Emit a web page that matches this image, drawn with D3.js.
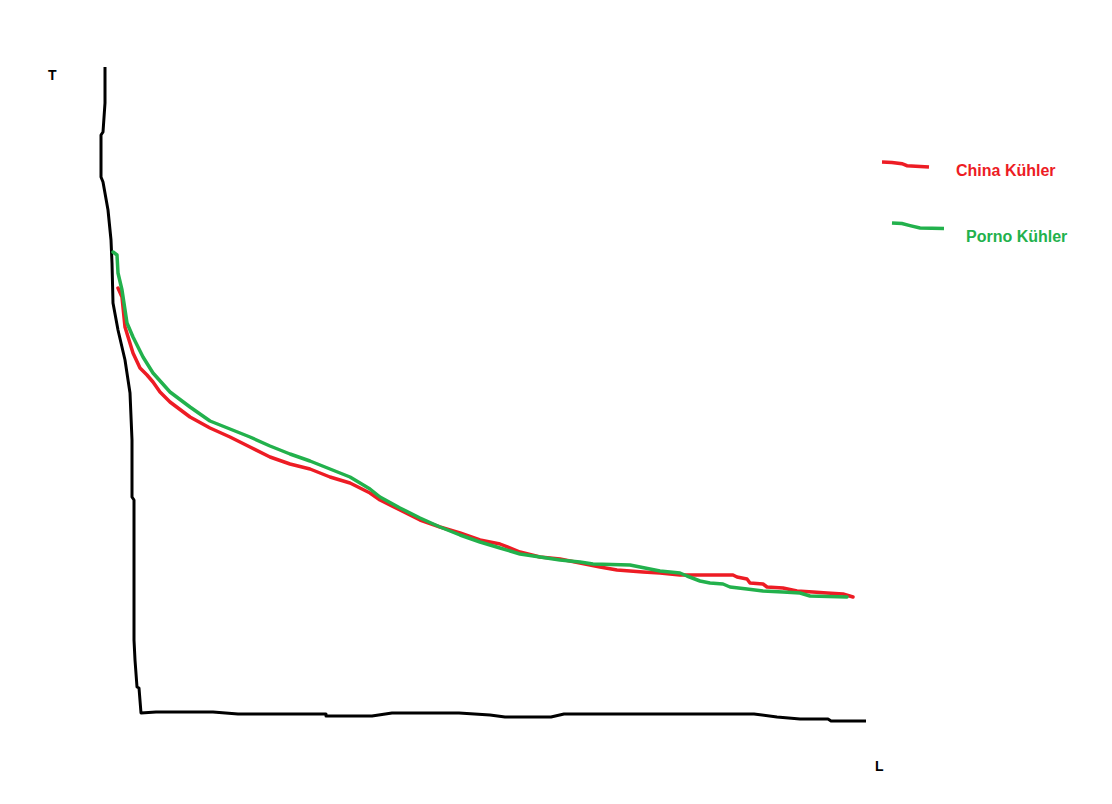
<!DOCTYPE html>
<html>
<head>
<meta charset="utf-8">
<script src="https://cdn.jsdelivr.net/npm/d3@7"></script>
<style>
  html, body { margin: 0; padding: 0; background: #fff; }
  text { font-family: "Liberation Sans", Arial, sans-serif; font-weight: bold; }
</style>
</head>
<body>
<div id="chart"></div>
<script>
// hand drawn axis line (L, T units)
const axisLine = [
  [5, 653], [5, 617], [3, 588], [1, 585], [1, 543], [3, 538], [8, 510], [11, 480],
  [12, 457], [13, 417], [18, 390], [25, 360], [30, 327], [32, 280], [32, 223], [34, 220],
  [34, 80], [35, 60], [37, 33], [39, 32], [41, 7], [56, 8], [113, 8], [138, 6],
  [226, 6], [226, 4], [272, 4], [292, 7], [359, 7], [390, 5], [405, 3], [451, 3],
  [464, 6], [654, 6], [677, 3], [700, 1], [728, 1], [731, -1], [766, -1]
];

const chinaKuehler = [
  [18, 432], [22, 423], [25, 393], [33, 367], [40, 352], [47, 345], [53, 338], [60, 328],
  [70, 318], [90, 303], [110, 292], [130, 283], [150, 273], [170, 263], [190, 256],
  [210, 251], [230, 243], [250, 237], [270, 227], [280, 220], [300, 210], [320, 200],
  [340, 193], [360, 187], [380, 180], [400, 176], [420, 168], [440, 163], [460, 161],
  [480, 157], [500, 153], [517, 150], [543, 148], [560, 147], [580, 145], [633, 145],
  [637, 143], [647, 141], [650, 137], [663, 136], [667, 133], [683, 132], [697, 129],
  [713, 128], [727, 127], [743, 126], [753, 123]
];

const pornoKuehler = [
  [13, 468], [17, 465], [18, 447], [22, 430], [27, 397], [33, 383], [43, 363], [53, 347],
  [70, 328], [90, 313], [110, 299], [130, 291], [150, 283], [170, 274], [190, 266],
  [210, 259], [230, 251], [250, 243], [270, 231], [280, 223], [300, 212], [320, 202],
  [340, 193], [360, 185], [380, 178], [400, 172], [420, 166], [440, 163], [460, 160],
  [480, 158], [493, 156], [530, 155], [540, 153], [560, 149], [580, 147], [587, 144],
  [600, 139], [610, 137], [623, 136], [630, 133], [647, 131], [663, 129], [683, 128],
  [700, 127], [710, 124], [747, 123]
];

const seriesNames = ["China Kühler", "Porno Kühler"];
const seriesColors = ["#ed1c24", "#22b14c"];

const width = 1112;
const height = 804;

const svg = d3.select("#chart")
  .append("svg")
  .attr("width", width)
  .attr("height", height);

const x = d3.scaleLinear().domain([0, 770]).range([100, 870]);
const y = d3.scaleLinear().domain([0, 655]).range([720, 65]);

const line = d3.line()
  .x(d => x(d[0]))
  .y(d => y(d[1]));

svg.append("path")
  .attr("d", line(axisLine))
  .attr("fill", "none")
  .attr("stroke", "#000")
  .attr("stroke-width", 3)
  .attr("stroke-linejoin", "round");

[chinaKuehler, pornoKuehler].forEach((s, i) => {
  svg.append("path")
    .attr("d", line(s))
    .attr("fill", "none")
    .attr("stroke", seriesColors[i])
    .attr("stroke-width", 3.5)
    .attr("stroke-linejoin", "round")
    .attr("stroke-linecap", "round");
});

// axis letters
svg.append("text").attr("x", 48).attr("y", 80).attr("font-size", 14).text("T");
svg.append("text").attr("x", 875).attr("y", 771).attr("font-size", 14).text("L");

// legend, with little scribbled swatches
const swatches = [
  [[0, 0], [10, 0.4], [20, 1.7], [25, 3.7], [47, 5]],
  [[0, 0], [10, 0.6], [18, 2.6], [28, 5], [52, 5.6]]
];
const legendPos = [[882, 162, 956, 176], [892, 223, 966, 242]];

const swatchLine = d3.line();
const legend = svg.append("g");
seriesNames.forEach((name, i) => {
  const [sx, sy, tx, ty] = legendPos[i];
  legend.append("path")
    .attr("transform", `translate(${sx},${sy})`)
    .attr("d", swatchLine(swatches[i]))
    .attr("fill", "none")
    .attr("stroke", seriesColors[i])
    .attr("stroke-width", 3.5);
  legend.append("text")
    .attr("x", tx)
    .attr("y", ty)
    .attr("font-size", 16)
    .attr("fill", seriesColors[i])
    .text(name);
});
</script>
</body>
</html>
